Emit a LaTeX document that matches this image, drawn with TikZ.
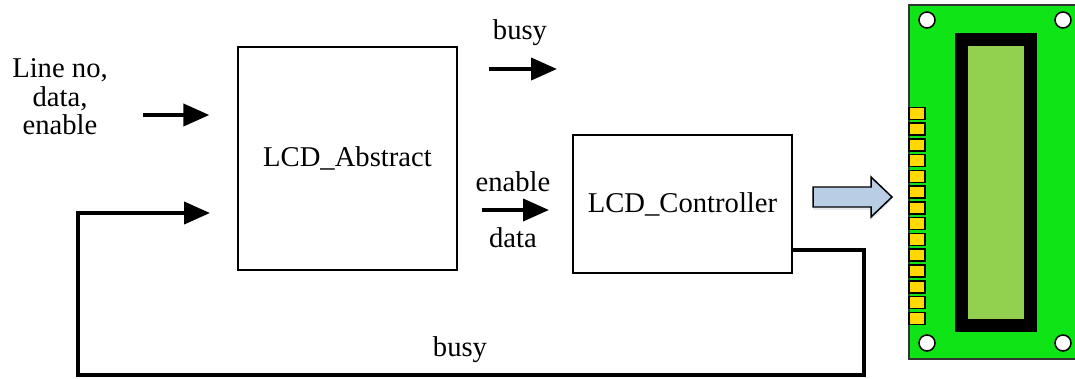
\documentclass[tikz,border=0pt]{standalone}
\usepackage{fontspec}
\setmainfont{Liberation Serif}
\usetikzlibrary{arrows.meta,positioning,calc,shadows}
\definecolor{pcbgreen}{RGB}{14,228,22}
\definecolor{lcdscreen}{RGB}{146,208,80}
\definecolor{pinyellow}{RGB}{255,217,0}
\definecolor{flowblue}{RGB}{185,205,229}
\tikzset{
  blk_txt/.style = {font=\fontsize{16.3}{16.2}\selectfont, inner sep=0pt},
  blk_box/.style = {blk_txt, rectangle, draw=black, line width=0.74pt},% module box
  sig/.style = {line width=2.27pt, -{Triangle[length=0.52cm,width=0.44cm]}},% thick signal arrow
  fb/.style = {sig, line join=miter},% feedback wire
  pin/.style = {fill=pinyellow, draw=black, line width=0.85pt}% header pin of the display
}
\begin{document}
\begin{tikzpicture}
\useasboundingbox (0,0) rectangle (21.5,7.56);

% modules
\node[blk_box, minimum width=4.38cm, minimum height=4.46cm] (abs) at (6.95,4.39) {LCD\_Abstract};
\node[blk_box, minimum width=4.38cm, minimum height=2.76cm] (ctl) at (13.65,3.48) {LCD\_Controller};

% inputs
\node[blk_txt, align=center] (inp) at (1.2,5.62) {Line no,\\data,\\enable};
\coordinate (in_a) at (2.86,5.26);
\coordinate (in_b) at ($(abs.west |- in_a)+(-0.56,0)$);
\draw[sig] (in_a) -- (in_b);

% busy out
\coordinate (bz_a) at (9.78,6.18);
\coordinate (bz_b) at (11.14,6.18);
\draw[sig] (bz_a) -- (bz_b);
\node[blk_txt, anchor=base] (bz) at (10.4,6.76) {busy};

% enable / data
\coordinate (en_a) at (9.64,3.36);
\coordinate (en_b) at (10.98,3.36);
\draw[sig] (en_a) -- (en_b);
\node[blk_txt, anchor=base] (en) at (10.26,3.72) {enable};
\node[blk_txt, anchor=base] (dt) at (10.26,2.6) {data};

% feedback
\coordinate (fb_a) at (ctl.east |- 0,2.56);
\coordinate (fb_b) at (17.28,0.06);
\coordinate (fb_c) at (1.56,3.3);
\coordinate (fb_d) at (4.2,3.3);
\draw[fb] (fb_a) -| (fb_b) -| (fb_c) -- (fb_d);
\node[blk_txt, anchor=base] (bz2) at (9.2,0.42) {busy};

% block arrow
\draw[fill=flowblue, line width=0.85pt, line join=miter,
      drop shadow={shadow xshift=0pt, shadow yshift=-0.06cm, opacity=0.25, fill=flowblue!60!gray}]
  (16.26,3.42) -- (17.42,3.42) -- (17.42,3.22) -- (17.84,3.62)
  -- (17.42,4.02) -- (17.42,3.82) -- (16.26,3.82) -- cycle;

% LCD module
\draw[fill=pcbgreen, draw=black!80, line width=0.6pt] (18.18,0.38) rectangle (21.6,7.46);
\foreach \hx in {18.54,21.26}
  \foreach \hy in {0.7,7.16}
    \draw[fill=white, line width=0.85pt] (\hx,\hy) circle (0.16);
\fill[black] (19.1,0.92) rectangle (20.74,6.9);
\fill[lcdscreen] (19.36,1.18) rectangle (20.48,6.64);
\foreach \i in {0,...,13}
  \draw[pin] (18.18,{5.414-0.3154*\i}) rectangle (18.5,{5.174-0.3154*\i});
\end{tikzpicture}
\end{document}
